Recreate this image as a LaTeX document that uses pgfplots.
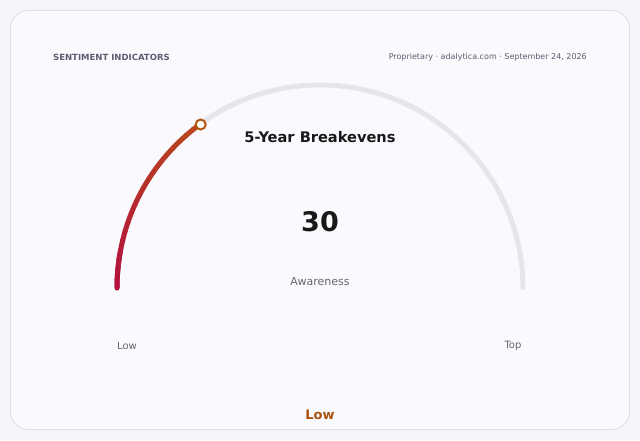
\documentclass[border=0pt]{standalone}
\usepackage{pgfplots}
\pgfplotsset{compat=1.18}
\usepackage{fontspec}
\setmainfont{DejaVu Sans}

\definecolor{pagebg}{HTML}{F6F6FA}
\definecolor{cardbg}{HTML}{FAFAFE}
\definecolor{cardline}{HTML}{DEDEE8}
\definecolor{track}{HTML}{E5E5EB}
\definecolor{gstart}{HTML}{B3123F}
\definecolor{gend}{HTML}{BA4A1A}
\definecolor{marker}{HTML}{B5560F}
\definecolor{headgray}{HTML}{5C5C70}
\definecolor{subgray}{HTML}{66666E}
\definecolor{lowtxt}{HTML}{A8520F}

\begin{document}
\begin{tikzpicture}
\begin{axis}[
  width=640pt, height=440pt, scale only axis,
  xmin=0, xmax=640, ymin=0, ymax=440,
  hide axis, clip=false,
]
  % page and card
  \fill[pagebg] (axis cs:0,0) rectangle (axis cs:640,440);
  \draw[fill=cardbg, draw=cardline, line width=1pt, rounded corners=18pt]
    (axis cs:10.5,10.5) rectangle (axis cs:629.5,429.5);

  % gauge track (0..100 over 180 degrees, centre 320/152, radius 203)
  \draw[track, line width=5pt, line cap=round]
    (axis cs:117,152) arc[start angle=180, end angle=0, radius=203pt];

  % value arc, 30 -> 126 degrees, shaded from gstart to gend
  \draw[gstart, line width=5pt, line cap=round]
    (axis cs:117,152) arc[start angle=180, end angle=170, radius=203pt];
  \pgfplotsinvokeforeach{0,5,...,95}{
    \draw[gend!#1!gstart, line width=5pt, line cap=butt]
      (axis cs:{320+203*cos(180-0.54*#1)},{152+203*sin(180-0.54*#1)})
      arc[start angle={180-0.54*#1}, end angle={180-0.54*(#1+5.5)}, radius=203pt];
  }

  % current value
  \addplot[only marks, mark=*, mark size=5pt,
    mark options={fill=white, draw=marker, line width=2pt}]
    coordinates {(200.7,315.5)};

  % texts
  \node[anchor=west, inner sep=0pt, text=headgray, font=\bfseries\fontsize{8.5}{10}\selectfont]
    at (axis cs:53,382.5) {SENTIMENT INDICATORS};
  \node[anchor=east, inner sep=0pt, text=headgray, font=\fontsize{8}{10}\selectfont]
    at (axis cs:587,382.5) {Proprietary · adalytica.com · September 24, 2026};
  \node[text=black!90, font=\bfseries\fontsize{14.6}{17}\selectfont]
    at (axis cs:320,302.5) {5-Year Breakevens};
  \node[text=black!90, font=\bfseries\fontsize{27}{30}\selectfont]
    at (axis cs:320,218.5) {30};
  \node[text=subgray, font=\fontsize{11}{13}\selectfont]
    at (axis cs:320,158) {Awareness};
  \node[text=subgray, font=\fontsize{10}{12}\selectfont]
    at (axis cs:127,94) {Low};
  \node[text=subgray, font=\fontsize{10}{12}\selectfont]
    at (axis cs:513,94) {Top};
  \node[text=lowtxt, font=\bfseries\fontsize{13}{15}\selectfont]
    at (axis cs:320,25) {Low};
\end{axis}
\end{tikzpicture}
\end{document}
